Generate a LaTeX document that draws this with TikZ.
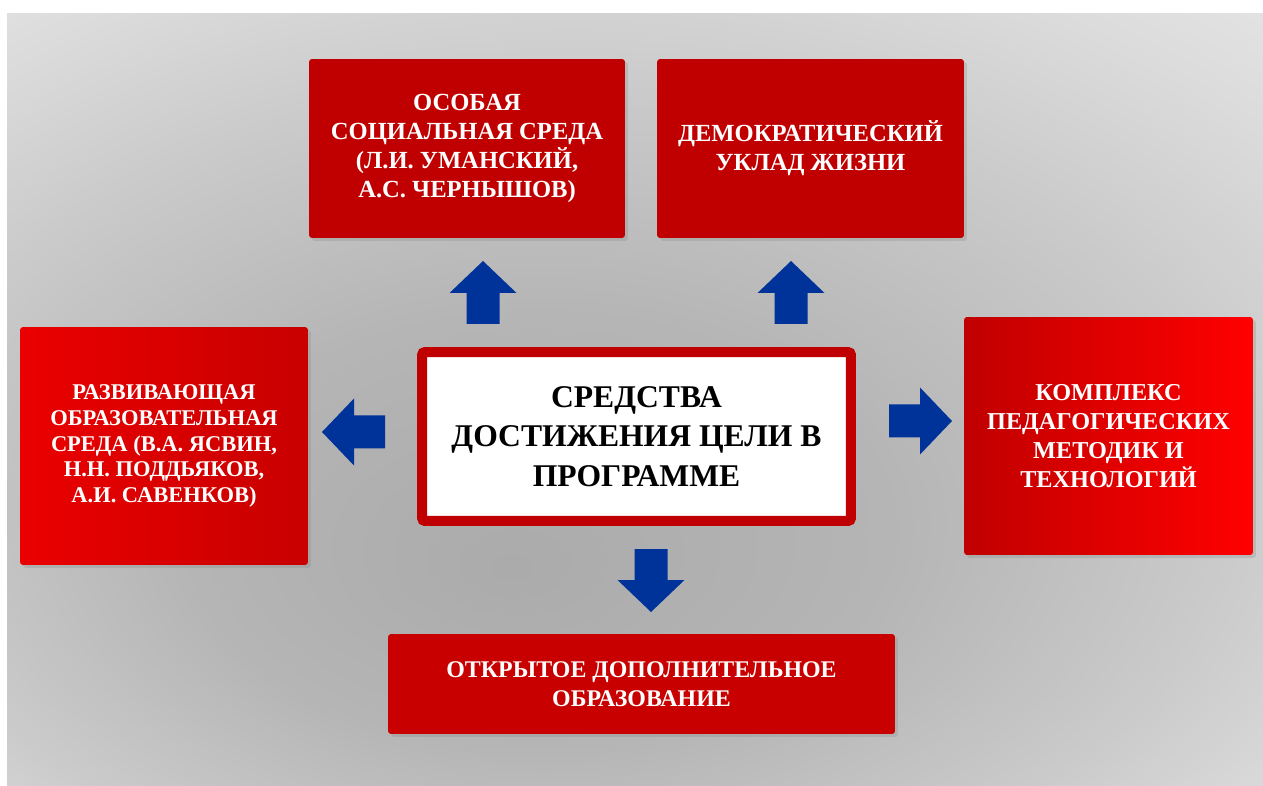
\documentclass[tikz,border=0pt]{standalone}
\usepackage{fontspec}
\setmainfont{Liberation Serif}
\usetikzlibrary{shadows}
\definecolor{boxred}{RGB}{192,0,0}
\definecolor{brightred}{RGB}{255,0,0}
\definecolor{midred}{RGB}{200,0,0}
\definecolor{arrowblue}{RGB}{0,51,153}
\pgfdeclareradialshading{bgshade}{\pgfpoint{-5bp}{-11bp}}{%
  rgb(0bp)=(0.67,0.67,0.67);
  rgb(14bp)=(0.71,0.71,0.71);
  rgb(26bp)=(0.79,0.79,0.79);
  rgb(35bp)=(0.86,0.86,0.86);
  rgb(46bp)=(0.93,0.93,0.93);
  rgb(60bp)=(0.96,0.96,0.96)}
\tikzset{
  redbox/.style={rectangle, rounded corners=0.06cm, inner sep=0pt, text=white,
    align=center, font=\fontsize{14}{16}\selectfont\bfseries,
    drop shadow={shadow xshift=0.06cm, shadow yshift=-0.06cm, opacity=0.25}},
  centerbox/.style={rectangle, rounded corners=0.06cm, inner sep=0pt, fill=white,
    draw=boxred, line width=0.2cm, text=black, align=center,
    font=\fontsize{18}{22.5}\selectfont\bfseries,
    drop shadow={shadow xshift=0.06cm, shadow yshift=-0.06cm, opacity=0.25}},
  barrow/.pic={\fill[arrowblue] (0,0) -- (-32,33.5) -- (-32,16.5) -- (-63,16.5)
     -- (-63,-16.5) -- (-32,-16.5) -- (-32,-33.5) -- cycle;}
}
\begin{document}
\begin{tikzpicture}[x=0.02cm,y=-0.02cm]
\useasboundingbox (0,0) rectangle (1263,786);
\fill[white] (0,0) rectangle (1263,786);
\shade[shading=bgshade] (7,14) rectangle (1263,786);

\node[redbox, fill=boxred, minimum width=6.32cm, minimum height=3.58cm,
  font=\fontsize{14}{16.4}\selectfont\bfseries] (A) at (467,148.5)
  {ОСОБАЯ\\СОЦИАЛЬНАЯ СРЕДА\\(Л.И. УМАНСКИЙ,\\А.С. ЧЕРНЫШОВ)};
\node[redbox, fill=boxred, minimum width=6.14cm, minimum height=3.58cm,
  font=\fontsize{14}{16.6}\selectfont\bfseries] (B) at (810.5,148.5)
  {ДЕМОКРАТИЧЕСКИЙ\\УКЛАД ЖИЗНИ};
\node[redbox, left color=red!92!black, right color=midred, minimum width=5.76cm,
  minimum height=4.76cm, font=\fontsize{12.8}{14.7}\selectfont\bfseries] (L) at (164,446)
  {РАЗВИВАЮЩАЯ\\ОБРАЗОВАТЕЛЬНАЯ\\СРЕДА (В.А. ЯСВИН,\\Н.Н. ПОДДЬЯКОВ,\\А.И. САВЕНКОВ)};
\node[redbox, left color=boxred, right color=brightred, minimum width=5.78cm,
  minimum height=4.76cm, font=\fontsize{13.8}{16.4}\selectfont\bfseries] (R) at (1108.5,436)
  {КОМПЛЕКС\\ПЕДАГОГИЧЕСКИХ\\МЕТОДИК И\\ТЕХНОЛОГИЙ};
\node[centerbox, minimum width=8.58cm, minimum height=3.38cm] (C) at (636.5,436.5)
  {СРЕДСТВА\\ДОСТИЖЕНИЯ ЦЕЛИ В\\ПРОГРАММЕ};
\node[redbox, fill=midred, minimum width=10.14cm, minimum height=2.0cm,
  font=\fontsize{13.6}{16.6}\selectfont\bfseries] (D) at (641.5,684)
  {ОТКРЫТОЕ ДОПОЛНИТЕЛЬНОЕ\\ОБРАЗОВАНИЕ};

\pic[rotate=90] at (483,261) {barrow};
\pic[rotate=90] at (791,261) {barrow};
\pic[rotate=180] at (322,432) {barrow};
\pic at (952,421) {barrow};
\pic[rotate=-90] at (651,612) {barrow};
\end{tikzpicture}
\end{document}
